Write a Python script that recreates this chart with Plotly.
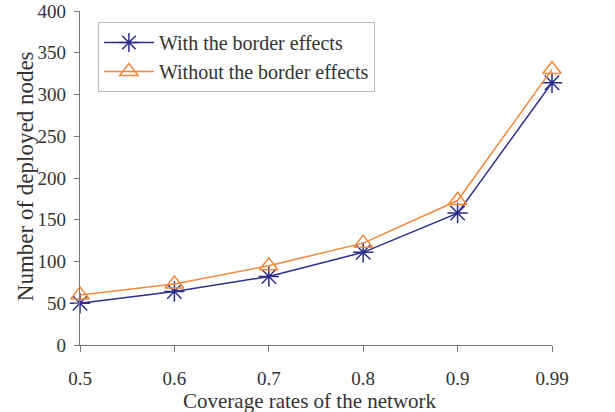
import plotly.graph_objects as go

coverage = ["0.5", "0.6", "0.7", "0.8", "0.9", "0.99"]
with_border = [50, 64, 82, 111, 158, 314]
without_border = [60, 73, 95, 122, 173, 330]

font_family = "Liberation Serif, Times New Roman, serif"
blue = "#2B2E8C"
orange = "#F5873A"

fig = go.Figure()
fig.add_trace(go.Scatter(
    x=coverage, y=with_border, name="With the border effects",
    mode="lines+markers", cliponaxis=False,
    line=dict(color=blue, width=1.5),
    marker=dict(symbol="asterisk-open", size=17, color=blue,
                line=dict(color=blue, width=1.5)),
))
fig.add_trace(go.Scatter(
    x=coverage, y=without_border, name="Without the border effects",
    mode="lines+markers", cliponaxis=False,
    line=dict(color=orange, width=1.5),
    marker=dict(symbol="triangle-up-open", size=16, color=orange,
                line=dict(color=orange, width=1.5)),
))

fig.update_layout(
    width=615, height=412,
    margin=dict(l=80, r=63, t=11, b=67),
    paper_bgcolor="white", plot_bgcolor="white",
    font=dict(family=font_family, size=19, color="#333333"),
    legend=dict(x=0.038, y=0.967, xanchor="left", yanchor="top",
                bordercolor="#BBBBBB", borderwidth=1, bgcolor="white",
                font=dict(size=20), tracegroupgap=0, itemwidth=50),
)
fig.update_xaxes(
    type="category", range=[0, 5], automargin=False,
    showline=True, linecolor="#777777", linewidth=1.2,
    ticks="outside", ticklen=6, tickcolor="#777777",
    ticklabelstandoff=10,
    showgrid=False, zeroline=False,
)
fig.update_yaxes(
    range=[0, 400], dtick=50, automargin=False,
    showline=True, linecolor="#777777", linewidth=1.2,
    ticks="outside", ticklen=5, tickcolor="#777777",
    ticklabelstandoff=4,
    showgrid=False, zeroline=False,
)

# axis titles placed as annotations to match the original spacing
fig.add_annotation(text="Coverage rates of the network", xref="paper", yref="paper",
                   x=0.487, y=-0.167, xanchor="center", yanchor="middle",
                   showarrow=False, font=dict(size=21))
fig.add_annotation(text="Number of deployed nodes", xref="paper", yref="paper",
                   x=-0.114, y=0.506, xanchor="center", yanchor="middle",
                   textangle=-90, showarrow=False, font=dict(size=23))

fig.write_html("out.html", config={"displayModeBar": False},
               post_script="document.body.style.margin='0';")
